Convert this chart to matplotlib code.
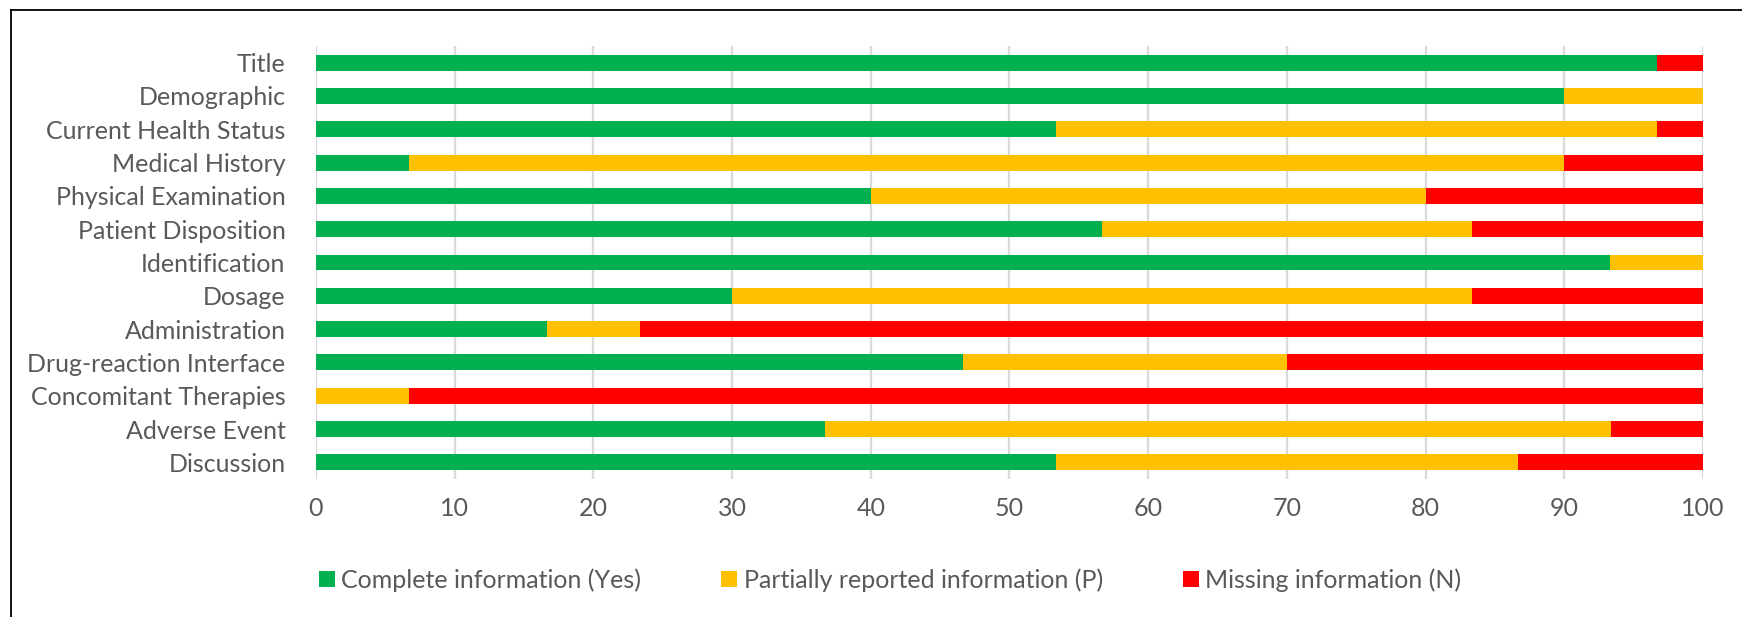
import numpy as np
import matplotlib.pyplot as plt
from matplotlib.lines import Line2D

categories = ["Title", "Demographic", "Current Health Status", "Medical History",
              "Physical Examination", "Patient Disposition", "Identification",
              "Dosage", "Administration", "Drug-reaction Interface",
              "Concomitant Therapies", "Adverse Event", "Discussion"]
complete = [96.67, 90.0, 53.33, 6.67, 40.0, 56.67, 93.33, 30.0, 16.67, 46.67, 0.0, 36.67, 53.33]
partial = [0.0, 10.0, 43.33, 83.33, 40.0, 26.67, 6.67, 53.33, 6.67, 23.33, 6.67, 56.67, 33.33]
missing = [3.33, 0.0, 3.33, 10.0, 20.0, 16.67, 0.0, 16.67, 76.67, 30.0, 93.33, 6.67, 13.33]
series_names = ["Complete information (Yes)", "Partially reported information (P)",
                "Missing information (N)"]
colors = ["#00b050", "#ffc000", "#ff0000"]
xticks = [0, 10, 20, 30, 40, 50, 60, 70, 80, 90, 100]

plt.rcParams['font.family'] = ['Lato', 'DejaVu Sans']
text_col = "#595959"

fig = plt.figure(figsize=(17.42, 6.17), dpi=100)
ax = fig.add_axes([0.1814, 0.2237, 0.9776 - 0.1814, 0.9254 - 0.2237])

y = np.arange(len(categories))
left = np.zeros(len(categories))
for vals, name, c in zip([complete, partial, missing], series_names, colors):
    ax.barh(y, vals, left=left, height=0.48, color=c, label=name, zorder=3)
    left = left + np.array(vals)

ax.set_ylim(len(categories) - 0.5, -0.5)
ax.set_xlim(0, 100)
ax.set_yticks(y)
ax.set_yticklabels(categories)
ax.set_xticks(xticks)
ax.tick_params(axis='both', length=0, labelsize=18, colors=text_col)
ax.tick_params(axis='x', pad=13)
ax.tick_params(axis='y', pad=22)
ax.grid(axis='x', color="#d9d9d9", linewidth=1.6, zorder=0)
for s in ax.spines.values():
    s.set_visible(False)

leg = fig.legend(loc='center', bbox_to_anchor=(0.511, 0.06), ncol=3, frameon=False,
                 fontsize=18, handlelength=0.65, handleheight=0.65, handletextpad=0.25,
                 columnspacing=3.2)
for t in leg.get_texts():
    t.set_color(text_col)

# outer frame: only top and left edges show in the crop
fx, fy = 11 / 1742, 1 - 10 / 617
fig.add_artist(Line2D([fx, fx], [0, fy], transform=fig.transFigure, color="black", lw=1.3))
fig.add_artist(Line2D([fx, 1], [fy, fy], transform=fig.transFigure, color="black", lw=1.3))

fig.savefig("out.png", dpi=100)
